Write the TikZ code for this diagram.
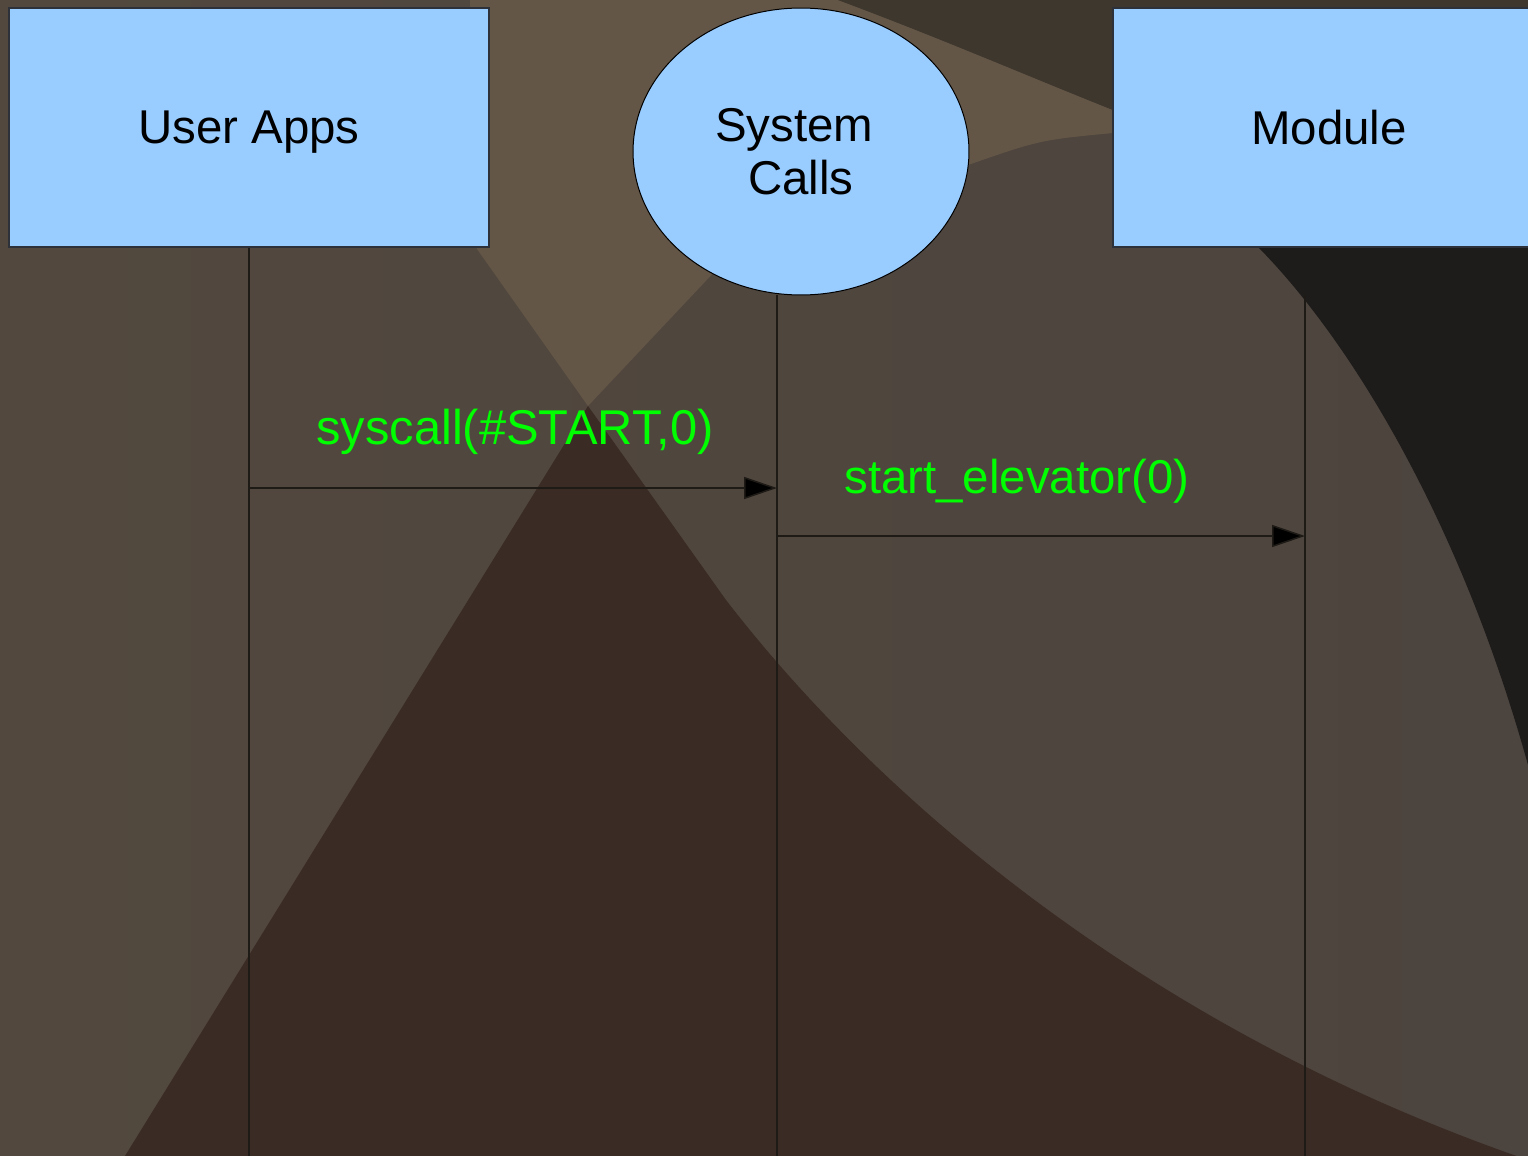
\documentclass[tikz,border=0pt]{standalone}
\usepackage{fontspec}
\setmainfont{Liberation Sans}
\usetikzlibrary{shapes.geometric, arrows.meta}

\definecolor{bgleft}{RGB}{82,72,62}
\definecolor{bgmid}{RGB}{80,64,54}
\definecolor{bgright}{RGB}{76,68,62}
\definecolor{bglight}{RGB}{100,86,70}
\definecolor{bgtop}{RGB}{62,55,46}
\definecolor{bgdark}{RGB}{58,43,36}
\definecolor{bgblack}{RGB}{29,28,26}
\definecolor{boxblue}{RGB}{153,204,255}
\definecolor{boxline}{RGB}{45,50,58}
\definecolor{msggreen}{RGB}{0,255,0}
\definecolor{lineblack}{RGB}{30,26,22}

\begin{document}
\begin{tikzpicture}[x=0.02cm, y=-0.02cm, font=\fontsize{27pt}{30pt}\selectfont,
    actor/.style={draw=boxline, line width=0.03cm, fill=boxblue, text depth=0pt},
    lifeline/.style={draw=lineblack, line width=0.03cm},
    msg/.style={draw=lineblack, line width=0.03cm, -{Triangle[length=0.66cm, width=0.44cm, fill=black]}},
    msgtext/.style={text=msggreen, anchor=base, inner sep=0pt}]
    \useasboundingbox (0,0) rectangle (1528,1156);
    \clip (0,0) rectangle (1528,1156);
    \shade[left color=bgleft, middle color=bgmid, right color=bgright] (0,0) rectangle (1528,1156);
    \fill[bglight] (470,0) -- (838,0) .. controls (940,38) and (1030,77) .. (1113,110) -- (1113,133) .. controls (1040,140) .. (968,165) -- (718,268) -- (588,406) -- (477,249) -- cycle;
    \fill[bgtop] (838,0) .. controls (940,38) and (1030,77) .. (1113,110) -- (1528,110) -- (1528,0) -- cycle;
    \fill[bgdark] (125,1156) -- (588,406) -- (726,600) .. controls (880,800) and (1150,1030) .. (1528,1160) -- cycle;
    \fill[bgblack] (1258,247) .. controls (1350,340) and (1460,520) .. (1528,765) -- (1528,247) -- cycle;

    \node[actor, rectangle, minimum width=9.6cm, minimum height=4.78cm] (0) at (249,127.5) {User Apps};
    \node[actor, ellipse, draw=black, line width=0.02cm, minimum width=6.72cm, minimum height=5.74cm, inner sep=0pt, align=center] (1) at (801,151.5) {System\kern0.278em\\Calls};
    \node[actor, rectangle, minimum width=8.64cm, minimum height=4.78cm] (2) at (1329,127.5) {Module};

    \coordinate (0e) at (249,1156);
    \coordinate (1e) at (777,1156);
    \coordinate (2e) at (1305,1156);
    \coordinate (0m) at (249,488);
    \coordinate (1m) at (777,488);
    \coordinate (1n) at (777,536);
    \coordinate (2n) at (1305,536);

    \draw[lifeline] (0.south) -- (0e);
    \draw[lifeline] (1e |- 1.south) -- (1e);
    \draw[lifeline] (2e |- 1.south) -- (2e);

    \draw[msg] (0m) -- (1m);
    \draw[msg] (1n) -- (2n);

    \node[msgtext, font=\fontsize{27.8pt}{30pt}\selectfont] (3) at (515,444) {syscall(\#START,0)};
    \node[msgtext] (4) at (1017,493) {start\_elevator(0)};
\end{tikzpicture}
\end{document}
